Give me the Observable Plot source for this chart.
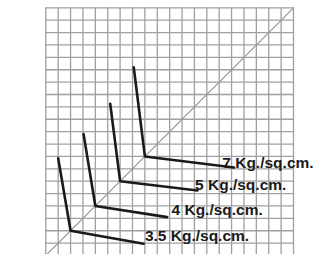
<!DOCTYPE html>
<html>
<head>
<meta charset="utf-8">
<script src="https://cdn.jsdelivr.net/npm/d3@7"></script>
<script src="https://cdn.jsdelivr.net/npm/@observablehq/plot@0.6"></script>
<style>
  html, body { margin: 0; padding: 0; background: #fff; overflow: hidden; }
  #chart { width: 319px; height: 254px; }
</style>
</head>
<body>
<div id="chart"></div>
<script>
// grid divisions (square paper, 20 x 20)
const gridLines = [0,1,2,3,4,5,6,7,8,9,10,11,12,13,14,15,16,17,18,19,20];
// diagonal reference line
const diagonal = [{x: 0, y: 0}, {x: 20, y: 20}];
// isobar-like curves: upper arm end, vertex on diagonal, lower arm end
const labels = ["3.5 Kg./sq.cm.", "4 Kg./sq.cm.", "5 Kg./sq.cm.", "7 Kg./sq.cm."];
const curveX = [
  [1.0, 2.0, 7.9],
  [3.05, 4.0, 9.8],
  [5.2, 6.0, 12.25],
  [7.1, 8.0, 15.2]
];
const curveY = [
  [7.85, 2.0, 0.95],
  [9.8, 4.0, 3.1],
  [12.25, 6.0, 5.25],
  [15.2, 8.0, 7.1]
];
const labelX = [8.0, 10.15, 12.05, 14.25];
const labelY = [1.21, 3.23, 5.25, 7.05];

const curvePts = [];
labels.forEach((lab, i) => {
  curveX[i].forEach((x, j) => curvePts.push({series: lab, x, y: curveY[i][j]}));
});
const labelData = labels.map((t, i) => ({t, x: labelX[i], y: labelY[i]}));

const plot = Plot.plot({
  width: 319,
  height: 254,
  marginLeft: 0, marginRight: 0, marginTop: 0, marginBottom: 0,
  x: {domain: [0, 20], range: [45.3, 293], axis: null},
  y: {domain: [0, 20], range: [255, 7.3], axis: null},
  style: {background: "#fff", overflow: "hidden"},
  marks: [
    Plot.ruleX(gridLines, {x: d => d, y1: 0, y2: 20, stroke: "#a0a0a0", strokeWidth: 1.3}),
    Plot.ruleY(gridLines, {y: d => d, x1: 0, x2: 20, stroke: "#a0a0a0", strokeWidth: 1.3}),
    Plot.line(diagonal, {x: "x", y: "y", stroke: "#9a9a9a", strokeWidth: 1.2}),
    Plot.line(curvePts, {x: "x", y: "y", z: "series", stroke: "#1a1a1a", strokeWidth: 2.6, strokeLinejoin: "miter", curve: "linear"}),
    Plot.text(labelData, {x: "x", y: "y", text: "t", textAnchor: "start", lineAnchor: "bottom",
      fontFamily: "Liberation Sans, Arial, sans-serif", fontWeight: "bold", fontSize: 15.5, fill: "#1a1a1a"})
  ]
});
document.getElementById("chart").appendChild(plot);
</script>
</body>
</html>
